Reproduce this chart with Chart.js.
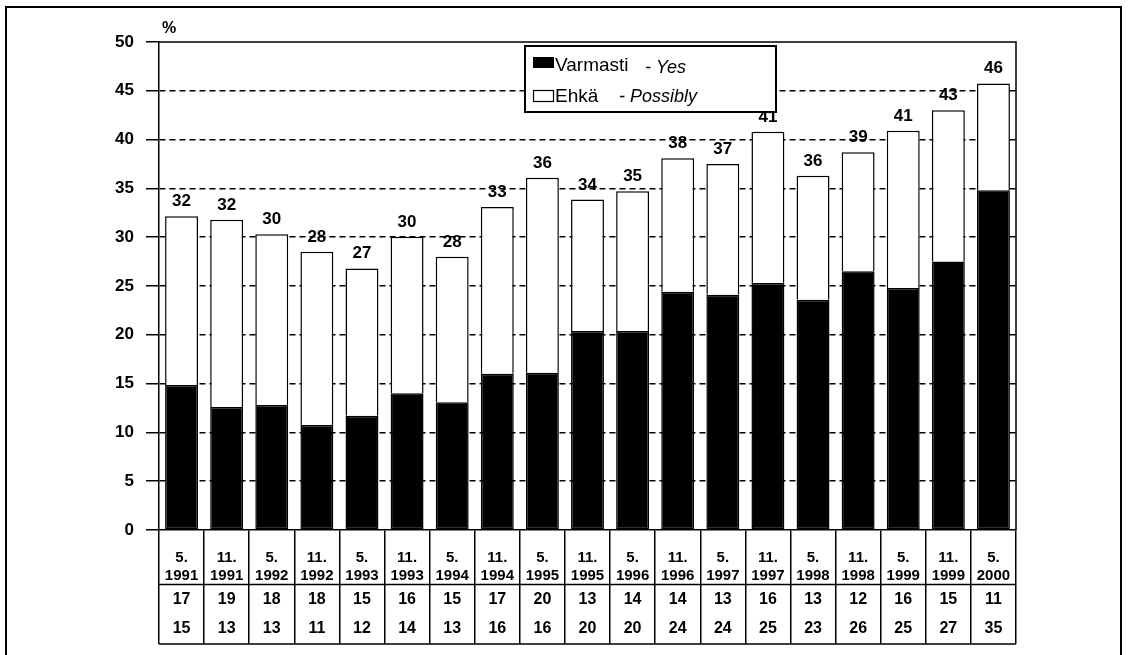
<!DOCTYPE html>
<html>
<head>
<meta charset="utf-8">
<script src="https://cdn.jsdelivr.net/npm/chart.js@4.4.1/dist/chart.umd.min.js"></script>
<style>
html,body{margin:0;padding:0;background:#fff;}
#wrap{position:relative;width:1129px;height:655px;}
</style>
</head>
<body>
<div id="wrap"><canvas id="c"></canvas></div>
<script>
// ---- data ----
const months = ['5.','11.','5.','11.','5.','11.','5.','11.','5.','11.','5.','11.','5.','11.','5.','11.','5.','11.','5.'];
const years = ['1991','1991','1992','1992','1993','1993','1994','1994','1995','1995','1996','1996','1997','1997','1998','1998','1999','1999','2000'];
// bar heights as drawn in the picture
const yesValues = [14.85,12.6,12.8,10.75,11.7,14.0,13.1,16.0,16.1,20.4,20.4,24.4,24.1,25.3,23.6,26.5,24.8,27.5,34.8];
const possiblyValues = [17.3,19.2,17.5,17.75,15.1,16.05,14.9,17.1,20.0,13.45,14.3,13.7,13.4,15.5,12.7,12.2,16.1,15.5,10.95];
// printed figures
const totalLabels = [32,32,30,28,27,30,28,33,36,34,35,38,37,41,36,39,41,43,46];
const possiblyTable = [17,19,18,18,15,16,15,17,20,13,14,14,13,16,13,12,16,15,11];
const yesTable = [15,13,13,11,12,14,13,16,16,20,20,24,24,25,23,26,25,27,35];
const yTicks = [0,5,10,15,20,25,30,35,40,45,50];

const categories = months.map((m,i)=>[m, years[i]]);
const FONT = '"Liberation Sans", Arial, Helvetica, sans-serif';

const framePlugin = {
  id:'frame',
  beforeDraw(chart){
    const ctx = chart.ctx;
    ctx.save();
    ctx.fillStyle='#fff';
    ctx.fillRect(0,0,chart.width,chart.height);
    ctx.strokeStyle='#000';
    ctx.lineWidth=2;
    ctx.strokeRect(6,7,1115,700);
    ctx.restore();
  },
  afterDatasetsDraw(chart){
    const ctx = chart.ctx;
    const a = chart.chartArea;
    const xs = chart.scales.x;
    ctx.save();
    // plot border top/right
    ctx.strokeStyle='#000';
    ctx.lineWidth=1.5;
    ctx.beginPath();
    ctx.moveTo(a.left, a.top); ctx.lineTo(a.right, a.top); ctx.lineTo(a.right, a.bottom);
    ctx.stroke();
    // total labels
    const meta = chart.getDatasetMeta(1);
    ctx.fillStyle='#000';
    ctx.font='bold 17px '+FONT;
    ctx.textAlign='center';
    ctx.textBaseline='alphabetic';
    meta.data.forEach((bar,i)=>{
      ctx.fillText(String(totalLabels[i]), bar.x, bar.y-10);
    });
    // % label
    ctx.font='bold 16px '+FONT;
    ctx.fillText('%', a.left+10, 33);
    // table
    const l = xs.getPixelForValue(0) - (xs.getPixelForValue(1)-xs.getPixelForValue(0))/2;
    const r = a.right;
    ctx.lineWidth=1.5;
    ctx.beginPath();
    ctx.moveTo(l,584.5); ctx.lineTo(r,584.5);
    ctx.moveTo(l,644); ctx.lineTo(r,644);
    ctx.stroke();
    ctx.font='bold 16px '+FONT;
    ctx.textBaseline='middle';
    for(let i=0;i<categories.length;i++){
      const x = xs.getPixelForValue(i);
      ctx.fillText(String(possiblyTable[i]), x, 600);
      ctx.fillText(String(yesTable[i]), x, 629);
    }
    ctx.restore();
  },
  afterDraw(chart){
    const ctx = chart.ctx;
    ctx.save();
    // legend box
    const bx=525, by=46, bw=251, bh=66;
    ctx.fillStyle='#fff';
    ctx.fillRect(bx,by,bw,bh);
    ctx.strokeStyle='#000';
    ctx.lineWidth=2;
    ctx.strokeRect(bx,by,bw,bh);
    // swatches
    ctx.fillStyle='#000';
    ctx.fillRect(533,57,21,11);
    ctx.lineWidth=1.2;
    ctx.strokeRect(533.5,90.5,20,11);
    ctx.fillStyle='#000';
    ctx.textAlign='left';
    ctx.textBaseline='alphabetic';
    ctx.font='19px '+FONT;
    ctx.fillText('Varmasti', 555, 71);
    ctx.fillText('Ehkä', 555, 102);
    ctx.font='italic 18px '+FONT;
    ctx.fillText('- Yes', 645, 73);
    ctx.fillText('- Possibly', 619, 102);
    ctx.restore();
  }
};

new Chart(document.getElementById('c'), {
  type:'bar',
  data:{
    labels: categories,
    datasets:[
      {label:'Varmasti - Yes', data: yesValues, backgroundColor:'#000', borderColor:'#000', borderWidth:1.5, borderSkipped:false, barPercentage:0.73, categoryPercentage:1},
      {label:'Ehkä - Possibly', data: possiblyValues, backgroundColor:'#fff', borderColor:'#000', borderWidth:1.5, borderSkipped:'bottom', barPercentage:0.73, categoryPercentage:1}
    ]
  },
  options:{
    responsive:true,
    maintainAspectRatio:false,
    animation:false,
    layout:{padding:{top:42,left:0,right:113,bottom:11}},
    plugins:{legend:{display:false}, tooltip:{enabled:false}},
    scales:{
      x:{
        stacked:true,
        afterFit(s){ s.height = 114; },
        grid:{offset:true, drawOnChartArea:false, drawTicks:true, tickLength:114, tickColor:'#000', tickWidth:1.5, color:'#000', lineWidth:1.5},
        border:{display:true, color:'#000', width:1.5},
        ticks:{autoSkip:false, maxRotation:0, minRotation:0, padding:-96, color:'#000', font:{family:FONT, size:15, weight:'bold', lineHeight:1.25}}
      },
      y:{
        stacked:true,
        min:0, max:50,
        afterFit(s){ s.width = 159; },
        afterBuildTicks(s){ s.ticks = yTicks.map(v=>({value:v})); },
        grid:{
          color:(c)=> (c.tick && (c.tick.value===0 || c.tick.value===50)) ? 'rgba(0,0,0,0)' : '#000',
          lineWidth:1.5, tickLength:13, tickColor:'#000', tickWidth:1.5
        },
        border:{display:true, color:'#000', width:1.5, dash:[6,4]},
        ticks:{padding:12, color:'#000', font:{family:FONT, size:17, weight:'bold'}}
      }
    }
  },
  plugins:[framePlugin]
});
</script>
</body>
</html>
